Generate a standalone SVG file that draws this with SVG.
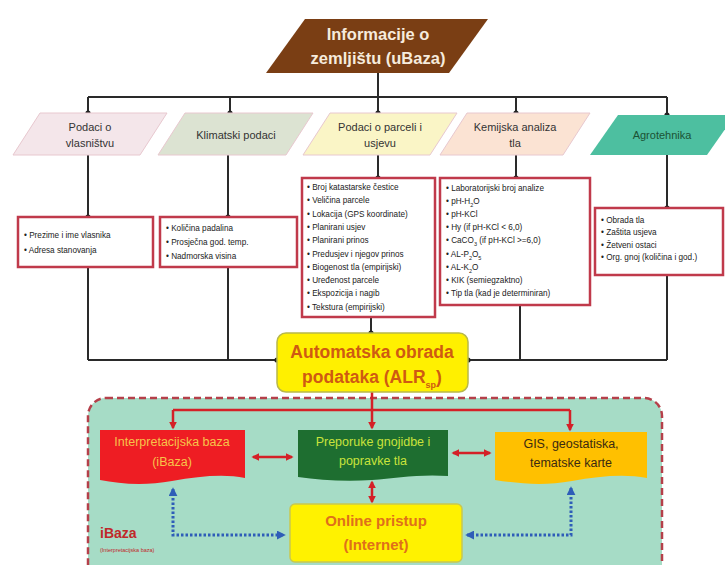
<svg xmlns="http://www.w3.org/2000/svg" width="725" height="565" viewBox="0 0 725 565">
<defs>
<marker id="dot" viewBox="0 0 6 6" refX="3" refY="3" markerWidth="6" markerHeight="6" markerUnits="userSpaceOnUse"><circle cx="3" cy="3" r="2.6" fill="#222"/></marker>
<marker id="ra" viewBox="0 0 10 10" refX="8" refY="5" markerWidth="8" markerHeight="8" markerUnits="userSpaceOnUse" orient="auto-start-reverse"><path d="M0,0 L10,5 L0,10 Z" fill="#D42027"/></marker>
<marker id="ba" viewBox="0 0 10 10" refX="8" refY="5" markerWidth="9" markerHeight="9" markerUnits="userSpaceOnUse" orient="auto-start-reverse"><path d="M0,0 L10,5 L0,10 Z" fill="#2E5DB8"/></marker>
</defs>
<style>
text{font-family:"Liberation Sans Narrow","Liberation Sans",Arial,sans-serif;}
.k{stroke:#2a2a2a;stroke-width:2;fill:none;}
.para{stroke:#e8c8cf;stroke-width:1;}
.pt{font-size:11px;fill:#333;text-anchor:middle;}
.lb{fill:#fff;stroke:#C03A4B;stroke-width:2.5;}
.li{font-size:8.2px;fill:#222;}
.rd{stroke:#D42027;stroke-width:2.5;fill:none;}
.bl{stroke:#2E5DB8;stroke-width:3;fill:none;stroke-dasharray:2.5 2;}
</style>
<rect width="725" height="565" fill="#fff"/>

<g id="connectors">
<line class="k" x1="378" y1="73" x2="378" y2="97"/>
<line class="k" x1="88" y1="97" x2="667" y2="97"/>
<line class="k" x1="88" y1="97" x2="88" y2="113" marker-end="url(#dot)"/>
<line class="k" x1="230" y1="97" x2="230" y2="113" marker-end="url(#dot)"/>
<line class="k" x1="378" y1="97" x2="378" y2="113" marker-end="url(#dot)"/>
<line class="k" x1="516" y1="97" x2="516" y2="113" marker-end="url(#dot)"/>
<line class="k" x1="667" y1="97" x2="667" y2="115" marker-end="url(#dot)"/>
<line class="k" x1="88" y1="155" x2="88" y2="217" marker-end="url(#dot)"/>
<line class="k" x1="228" y1="155" x2="228" y2="217" marker-end="url(#dot)"/>
<line class="k" x1="378" y1="155" x2="378" y2="178" marker-end="url(#dot)"/>
<line class="k" x1="516" y1="155" x2="516" y2="178" marker-end="url(#dot)"/>
<line class="k" x1="667" y1="155" x2="667" y2="208" marker-end="url(#dot)"/>
<line class="k" x1="88" y1="267" x2="88" y2="360"/>
<line class="k" x1="228" y1="267" x2="228" y2="360"/>
<line class="k" x1="88" y1="360" x2="277" y2="360" marker-end="url(#dot)"/>
<line class="k" x1="371" y1="317" x2="371" y2="333" marker-end="url(#dot)"/>
<line class="k" x1="520" y1="305" x2="520" y2="360"/>
<line class="k" x1="667" y1="275" x2="667" y2="360"/>
<line class="k" x1="667" y1="360" x2="468" y2="360" marker-end="url(#dot)"/>
</g>

<g id="region">
<rect x="88" y="398" width="574" height="185" rx="18" fill="#A6DCC6" stroke="#B5404A" stroke-width="2.5" stroke-dasharray="7 4"/>
<text x="100" y="538" font-size="14" font-weight="bold" fill="#C0282A">iBaza</text>
<text x="100" y="552" font-size="5.5" fill="#C0282A">(Interpretacijska baza)</text>
</g>

<g id="connectors-bottom">
<line class="rd" x1="372" y1="392" x2="372" y2="410"/>
<line class="rd" x1="173" y1="410" x2="570" y2="410"/>
<line class="rd" x1="173" y1="410" x2="173" y2="428" marker-end="url(#ra)"/>
<line class="rd" x1="372" y1="410" x2="372" y2="428" marker-end="url(#ra)"/>
<line class="rd" x1="570" y1="410" x2="570" y2="430" marker-end="url(#ra)"/>
<line class="rd" x1="253" y1="457" x2="292" y2="457" marker-start="url(#ra)" marker-end="url(#ra)"/>
<line class="rd" x1="453" y1="453" x2="490" y2="453" marker-start="url(#ra)" marker-end="url(#ra)"/>
<line class="rd" x1="372" y1="482" x2="372" y2="502" marker-start="url(#ra)" marker-end="url(#ra)"/>
<path class="bl" d="M173,489 V535 H284" marker-start="url(#ba)" marker-end="url(#ba)"/>
<path class="bl" d="M571,488 V535 H467" marker-start="url(#ba)" marker-end="url(#ba)"/>
</g>

<g id="n-top">
<polygon points="305,19 488,19 449,73 266,73" fill="#7A3E14"/>
<text x="378" y="40" font-size="16.5" font-weight="bold" fill="#F6EBDD" text-anchor="middle">Informacije o</text>
<text x="378" y="64" font-size="16.5" font-weight="bold" fill="#F6EBDD" text-anchor="middle">zemljištu (uBaza)</text>
</g>

<g id="n-vlasnistvo">
<polygon class="para" points="40,113 167,113 140,155 13,155" fill="#F4E6EA"/>
<text class="pt" x="90" y="131">Podaci o</text>
<text class="pt" x="90" y="147">vlasništvu</text>
</g>
<g id="n-klima">
<polygon class="para" points="185,113 313,113 286,155 158,155" fill="#DCE3D2"/>
<text class="pt" x="236" y="139">Klimatski podaci</text>
</g>
<g id="n-parcela">
<polygon class="para" points="330,113 457,113 430,155 303,155" fill="#FAF5C6"/>
<text class="pt" x="380" y="131">Podaci o parceli i</text>
<text class="pt" x="380" y="147">usjevu</text>
</g>
<g id="n-kemija">
<polygon class="para" points="467,113 590,113 563,155 440,155" fill="#FBE3D3"/>
<text class="pt" x="515" y="131">Kemijska analiza</text>
<text class="pt" x="515" y="147">tla</text>
</g>
<g id="n-agro">
<polygon points="618,115 735,115 707,155 590,155" fill="#4DBFA0"/>
<text class="pt" x="662" y="139" style="fill:#1B5234">Agrotehnika</text>
</g>

<g id="b-vlasnistvo">
<rect class="lb" x="18" y="217" width="135" height="50"/>
<text class="li" x="24" y="238">• Prezime i ime vlasnika</text>
<text class="li" x="24" y="253">• Adresa stanovanja</text>
</g>
<g id="b-klima">
<rect class="lb" x="160" y="217" width="137" height="50"/>
<text class="li" x="166" y="231">• Količina padalina</text>
<text class="li" x="166" y="245">• Prosječna god. temp.</text>
<text class="li" x="166" y="259">• Nadmorska visina</text>
</g>
<g id="b-parcela">
<rect class="lb" x="302" y="178" width="133" height="139"/>
<text class="li" x="307" y="190">• Broj katastarske čestice</text>
<text class="li" x="307" y="203.3">• Veličina parcele</text>
<text class="li" x="307" y="216.6">• Lokacija (GPS koordinate)</text>
<text class="li" x="307" y="229.9">• Planirani usjev</text>
<text class="li" x="307" y="243.2">• Planirani prinos</text>
<text class="li" x="307" y="256.5">• Predusjev i njegov prinos</text>
<text class="li" x="307" y="269.8">• Biogenost tla (empirijski)</text>
<text class="li" x="307" y="283.1">• Uređenost parcele</text>
<text class="li" x="307" y="296.4">• Ekspozicija i nagib</text>
<text class="li" x="307" y="309.7">• Tekstura (empirijski)</text>
</g>
<g id="b-kemija">
<rect class="lb" x="440" y="178" width="150" height="127"/>
<text class="li" x="446" y="191">• Laboratorijski broj analize</text>
<text class="li" x="446" y="204.1">• pH-H<tspan font-size="5.5" baseline-shift="sub">2</tspan>O</text>
<text class="li" x="446" y="217.2">• pH-KCl</text>
<text class="li" x="446" y="230.3">• Hy (if pH-KCl &lt; 6,0)</text>
<text class="li" x="446" y="243.4">• CaCO<tspan font-size="5.5" baseline-shift="sub">3</tspan> (if pH-KCl &gt;=6,0)</text>
<text class="li" x="446" y="256.5">• AL-P<tspan font-size="5.5" baseline-shift="sub">2</tspan>O<tspan font-size="5.5" baseline-shift="sub">5</tspan></text>
<text class="li" x="446" y="269.6">• AL-K<tspan font-size="5.5" baseline-shift="sub">2</tspan>O</text>
<text class="li" x="446" y="282.7">• KIK (semiegzaktno)</text>
<text class="li" x="446" y="295.8">• Tip tla (kad je determiniran)</text>
</g>
<g id="b-agro">
<rect class="lb" x="595" y="208" width="128" height="67"/>
<text class="li" x="601" y="223">• Obrada tla</text>
<text class="li" x="601" y="235.3">• Zaštita usjeva</text>
<text class="li" x="601" y="247.6">• Žetveni ostaci</text>
<text class="li" x="601" y="259.9">• Org. gnoj (količina i god.)</text>
</g>

<g id="n-automatska">
<rect x="277" y="333" width="191" height="59" rx="9" fill="#FFF000" stroke="#B8B84A" stroke-width="1.5"/>
<text x="372" y="358" font-size="17.5" font-weight="bold" fill="#CF5A12" text-anchor="middle">Automatska obrada</text>
<text x="372" y="383" font-size="17.5" font-weight="bold" fill="#CF5A12" text-anchor="middle">podataka (ALR<tspan font-size="9" baseline-shift="sub">sp</tspan>)</text>
</g>

<g id="n-interpretacijska">
<path d="M100,430 H245 V478 C225,474 200,476 172,481 C145,486 120,484 100,480 Z" fill="#EE1D23"/>
<text x="172" y="446" font-size="12.5" fill="#F7C34A" text-anchor="middle">Interpretacijska baza</text>
<text x="172" y="466" font-size="12.5" fill="#F7C34A" text-anchor="middle">(iBaza)</text>
</g>
<g id="n-preporuke">
<path d="M298,430 H448 V476 C420,474 395,478 372,480 C345,482 320,480 298,477 Z" fill="#1E6E30"/>
<text x="373" y="446" font-size="12.5" fill="#C9E33C" text-anchor="middle">Preporuke gnojidbe i</text>
<text x="373" y="465" font-size="12.5" fill="#C9E33C" text-anchor="middle">popravke tla</text>
</g>
<g id="n-gis">
<path d="M495,432 H647 V478 C625,474 600,476 572,481 C545,486 520,484 495,480 Z" fill="#FFC000"/>
<text x="571" y="448" font-size="12.5" fill="#3A2A10" text-anchor="middle">GIS, geostatiska,</text>
<text x="571" y="467" font-size="12.5" fill="#3A2A10" text-anchor="middle">tematske karte</text>
</g>
<g id="n-online">
<rect x="290" y="504" width="172" height="58" rx="5" fill="#FFF200" stroke="#C8C850" stroke-width="1.5"/>
<text x="376" y="526" font-size="15" font-weight="bold" fill="#E0701A" text-anchor="middle">Online pristup</text>
<text x="376" y="550" font-size="15" font-weight="bold" fill="#E0701A" text-anchor="middle">(Internet)</text>
</g>
</svg>
